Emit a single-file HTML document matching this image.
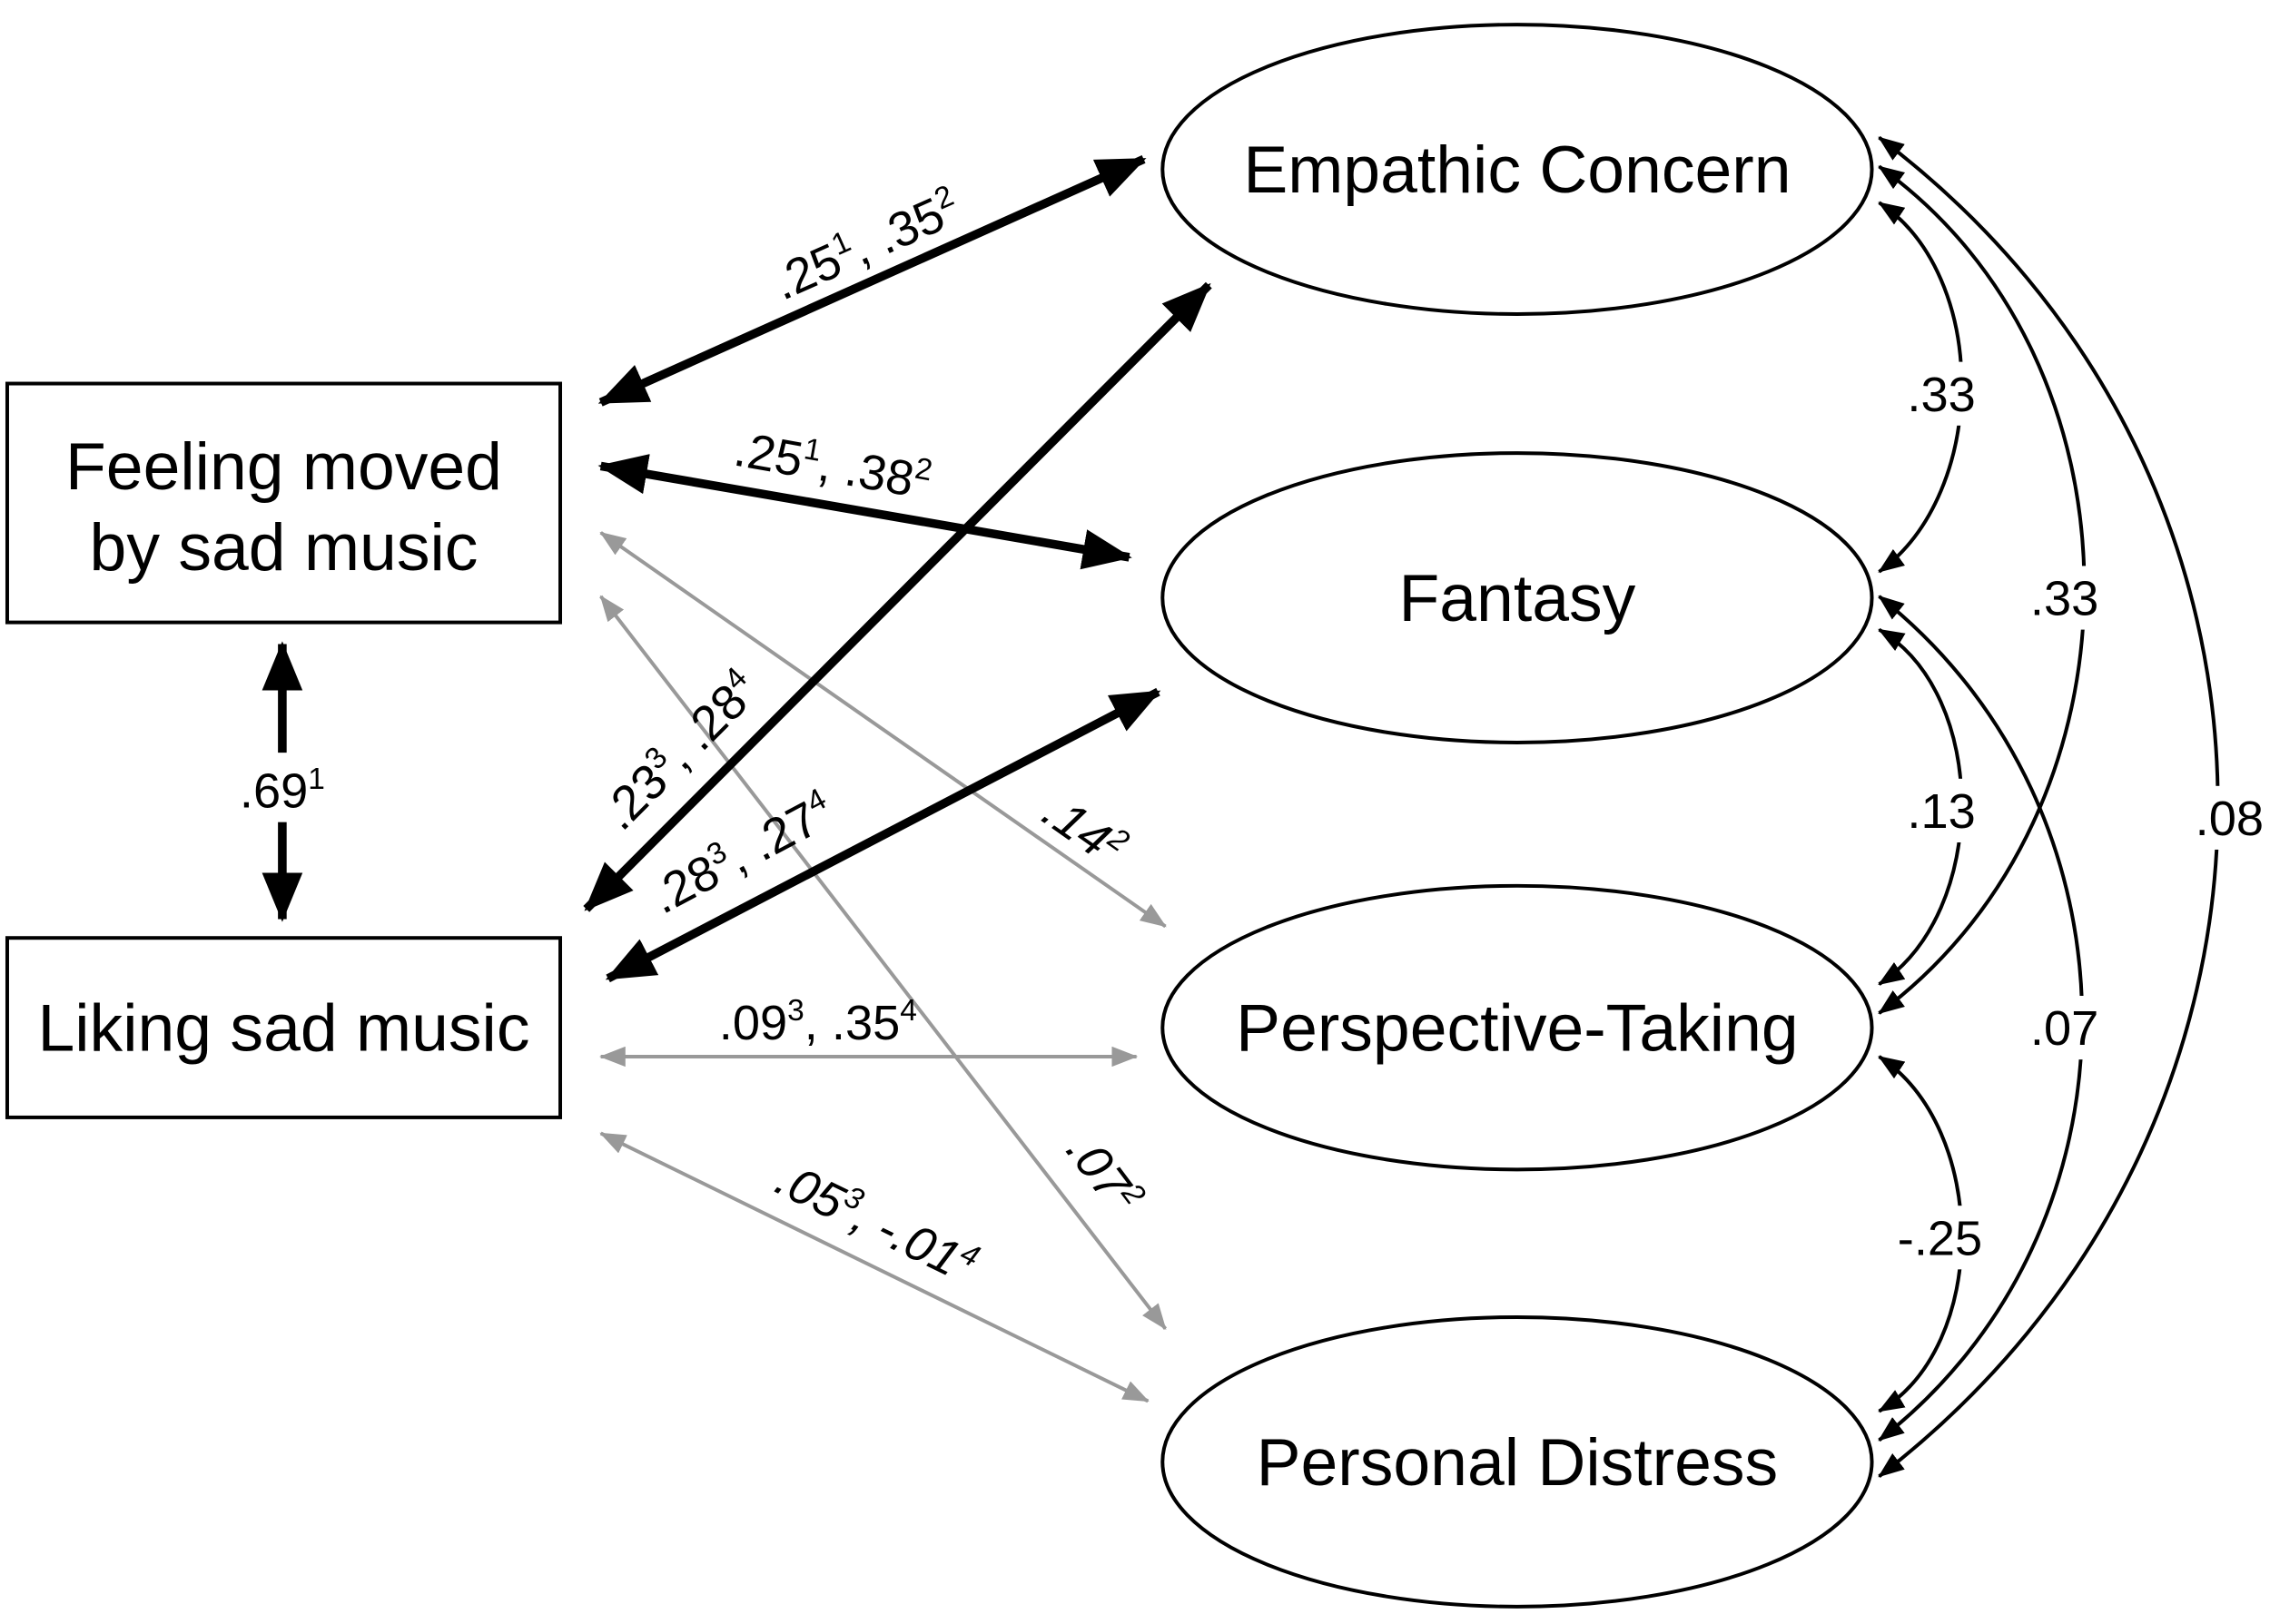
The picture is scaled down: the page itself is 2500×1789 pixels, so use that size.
<!DOCTYPE html>
<html><head><meta charset="utf-8"><style>
html,body{margin:0;padding:0;background:#fff;}
svg{display:block;}
text{font-family:"Liberation Sans",Arial,sans-serif;}
</style></head><body>
<svg width="2500" height="1789" viewBox="0 0 1568 1122" preserveAspectRatio="none" xmlns="http://www.w3.org/2000/svg">
<defs>
<marker id="bk" markerUnits="userSpaceOnUse" markerWidth="34" markerHeight="30" refX="32" refY="14" orient="auto-start-reverse" viewBox="0 0 34 28"><path d="M0,0 L34,14 L0,28 Z" fill="#000"/></marker>
<marker id="gr" markerUnits="userSpaceOnUse" markerWidth="18" markerHeight="14" refX="17" refY="7" orient="auto-start-reverse" viewBox="0 0 18 14"><path d="M0,0 L18,7 L0,14 Z" fill="#999"/></marker>
<marker id="sb" markerUnits="userSpaceOnUse" markerWidth="18" markerHeight="14" refX="17" refY="7" orient="auto-start-reverse" viewBox="0 0 18 14"><path d="M0,0 L18,7 L0,14 Z" fill="#000"/></marker>
</defs>
<rect width="1568" height="1122" fill="#fff"/>
<rect x="5" y="265" width="382" height="165" fill="#fff" stroke="#000" stroke-width="2.5"/>
<text x="196" y="338" font-size="46" text-anchor="middle">Feeling moved</text>
<text x="196" y="394" font-size="46" text-anchor="middle">by sad music</text>
<rect x="5" y="648" width="382" height="124" fill="#fff" stroke="#000" stroke-width="2.5"/>
<text x="196" y="726" font-size="46" text-anchor="middle">Liking sad music</text>
<g fill="#fff" stroke="#000" stroke-width="2.5">
<ellipse cx="1048" cy="117" rx="245" ry="100"/>
<ellipse cx="1048" cy="413" rx="245" ry="100"/>
<ellipse cx="1048" cy="710" rx="245" ry="98"/>
<ellipse cx="1048" cy="1010" rx="245" ry="100"/>
</g>
<g font-size="46" text-anchor="middle">
<text x="1048" y="133">Empathic Concern</text>
<text x="1048" y="429">Fantasy</text>
<text x="1048" y="726">Perspective-Taking</text>
<text x="1048" y="1026">Personal Distress</text>
</g>
<g stroke="#999" stroke-width="2.5" fill="none" marker-start="url(#gr)" marker-end="url(#gr)">
<line x1="415" y1="368" x2="805" y2="640"/>
<line x1="415" y1="412" x2="805" y2="918"/>
<line x1="415" y1="730" x2="785" y2="730"/>
<line x1="415" y1="783" x2="793" y2="968"/>
</g>
<g stroke="#000" stroke-width="6" fill="none" marker-start="url(#bk)" marker-end="url(#bk)">
<line x1="415" y1="278" x2="790" y2="110"/>
<line x1="415" y1="322" x2="780" y2="385"/>
<line x1="405" y1="628" x2="835" y2="197"/>
<line x1="420" y1="676" x2="800" y2="478"/>
<line x1="195" y1="445" x2="195" y2="635"/>
</g>
<rect x="155" y="520" width="82" height="48" fill="#fff"/>
<text x="195" y="558" font-size="34" text-anchor="middle">.69<tspan font-size="21" dy="-13">1</tspan></text>
<g font-size="34" text-anchor="middle">
<text transform="translate(603,180) rotate(-24)">.25<tspan font-size="21" dy="-13">1</tspan><tspan dy="13">, .35</tspan><tspan font-size="21" dy="-13">2</tspan></text>
<text transform="translate(573,333) rotate(10)">.25<tspan font-size="21" dy="-13">1</tspan><tspan dy="13">, .38</tspan><tspan font-size="21" dy="-13">2</tspan></text>
<text transform="translate(478,527) rotate(-45)">.23<tspan font-size="21" dy="-13">3</tspan><tspan dy="13">, .28</tspan><tspan font-size="21" dy="-13">4</tspan></text>
<text transform="translate(518,600) rotate(-28)">.28<tspan font-size="21" dy="-13">3</tspan><tspan dy="13">, .27</tspan><tspan font-size="21" dy="-13">4</tspan></text>
<text transform="translate(742,583) rotate(35)" font-style="italic">.14<tspan font-size="21" dy="-13">2</tspan></text>
<text transform="translate(753,818) rotate(53)" font-style="italic">.07<tspan font-size="21" dy="-13">2</tspan></text>
<text x="565" y="718">.09<tspan font-size="21" dy="-13">3</tspan><tspan dy="13">, .35</tspan><tspan font-size="21" dy="-13">4</tspan></text>
<text transform="translate(600,855) rotate(26)" font-style="italic">.05<tspan font-size="21" dy="-13">3</tspan><tspan dy="13">, -.01</tspan><tspan font-size="21" dy="-13">4</tspan></text>
</g>
<g stroke="#000" stroke-width="2.5" fill="none" marker-start="url(#sb)" marker-end="url(#sb)">
<path d="M1298,140 C1374,190 1374,340 1298,395"/>
<path d="M1298,115 C1487,250 1487,560 1298,700"/>
<path d="M1298,95 C1610,330 1610,780 1298,1020"/>
<path d="M1298,435 C1374,480 1374,630 1298,680"/>
<path d="M1298,412 C1485,560 1485,850 1298,995"/>
<path d="M1298,730 C1374,780 1374,930 1298,975"/>
</g>
<g font-size="34" text-anchor="middle">
<rect x="1312" y="250" width="58" height="44" fill="#fff"/><text x="1341" y="284">.33</text>
<rect x="1397" y="391" width="58" height="44" fill="#fff"/><text x="1426" y="425">.33</text>
<rect x="1511" y="543" width="58" height="44" fill="#fff"/><text x="1540" y="577">.08</text>
<rect x="1312" y="538" width="58" height="44" fill="#fff"/><text x="1341" y="572">.13</text>
<rect x="1397" y="688" width="58" height="44" fill="#fff"/><text x="1426" y="722">.07</text>
<rect x="1305" y="833" width="70" height="44" fill="#fff"/><text x="1340" y="867">-.25</text>
</g>
</svg>
</body></html>
